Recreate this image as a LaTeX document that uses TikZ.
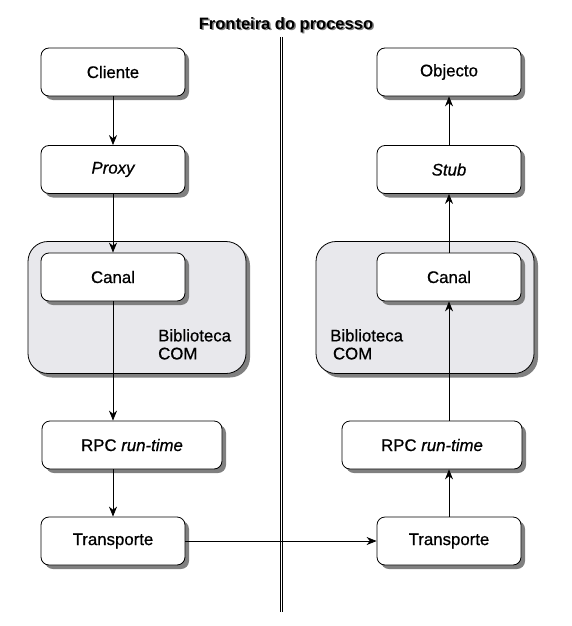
\documentclass[tikz,border=0pt]{standalone}
\usepackage{fontspec}
\setmainfont{Liberation Sans}
\newfontfamily\heavysans[FakeBold=0.7]{Liberation Sans}
\usetikzlibrary{shadows,arrows.meta}
\definecolor{libgrey}{RGB}{232,232,236}
\definecolor{shadowgrey}{RGB}{128,128,128}
\tikzset{
  boxshadow/.style={drop shadow={shadow xshift=4pt, shadow yshift=-4pt, fill=shadowgrey, opacity=1}},
  labelfont/.style={font=\heavysans\fontsize{16.8}{18}\selectfont},
  stepbox/.style={draw=black, line width=0.8pt, fill=white, rounded corners=8pt,
    minimum height=48pt, inner sep=0pt, labelfont, boxshadow},
  narrowbox/.style={stepbox, minimum width=144pt},
  widebox/.style={stepbox, minimum width=180pt},
  libbox/.style={draw=black, line width=0.8pt, fill=libgrey, rounded corners=20pt,
    minimum width=218pt, minimum height=132pt, inner sep=0pt, boxshadow},
  liblabel/.style={align=left, anchor=north west, inner sep=0pt, labelfont},
  titlefont/.style={font=\bfseries\fontsize{16.5}{18}\selectfont},
  conn/.style={line width=0.8pt, -{Stealth[length=10pt,width=8pt]}},
  bline/.style={line width=0.8pt},
}
\begin{document}
\begin{tikzpicture}[x=1pt,y=-1pt]
\useasboundingbox (0,0) rectangle (571,626);
\fill[white] (0,0) rectangle (571,626);
% boundary
\coordinate (btop) at (281.5,37);
\coordinate (bbot) at (281.5,612);
\draw[bline] ([xshift=-1.3pt]btop) -- ([xshift=-1.3pt]bbot);
\draw[bline] ([xshift=1.3pt]btop) -- ([xshift=1.3pt]bbot);
% title
\node[titlefont, text=shadowgrey] at (287.5,26.5) {Fronteira do processo};
\node[titlefont] (title) at (286,25) {Fronteira do processo};
% library boxes
\node[libbox] (libL) at (137,307.5) {};
\node[libbox] (libR) at (425,307.5) {};
\node[liblabel] (libLtxt) at (158,329) {Biblioteca\\COM};
\node[liblabel] (libRtxt) at (330,329) {Biblioteca\\\,COM};
% left column
\node[narrowbox] (cliente) at (113,72) {Cliente};
\node[narrowbox] (proxy) at (113,169.5) {\itshape Proxy};
\node[narrowbox] (canalL) at (113,277) {Canal};
\node[widebox] (rpcL) at (132,445) {RPC \itshape run-time};
\node[narrowbox] (transL) at (113,541) {Transporte};
% right column
\node[narrowbox] (objecto) at (449,72) {Objecto};
\node[narrowbox] (stub) at (449,169.5) {\itshape Stub};
\node[narrowbox] (canalR) at (449,277) {Canal};
\node[widebox] (rpcR) at (432,445) {RPC \itshape run-time};
\node[narrowbox] (transR) at (449,541) {Transporte};
% connectors left
\draw[conn] (cliente.south) -- (proxy.north);
\draw[conn] (proxy.south) -- (canalL.north);
\draw[conn] (canalL.south) -- (canalL.south |- rpcL.north);
\draw[conn] (canalL.south |- rpcL.south) -- (transL.north);
% across
\draw[conn] (transL.east) -- (transR.west);
% connectors right
\draw[conn] (transR.north) -- (transR.north |- rpcR.south);
\draw[conn] (transR.north |- rpcR.north) -- (canalR.south);
\draw[conn] (canalR.north) -- (stub.south);
\draw[conn] (stub.north) -- (objecto.south);
\end{tikzpicture}
\end{document}
